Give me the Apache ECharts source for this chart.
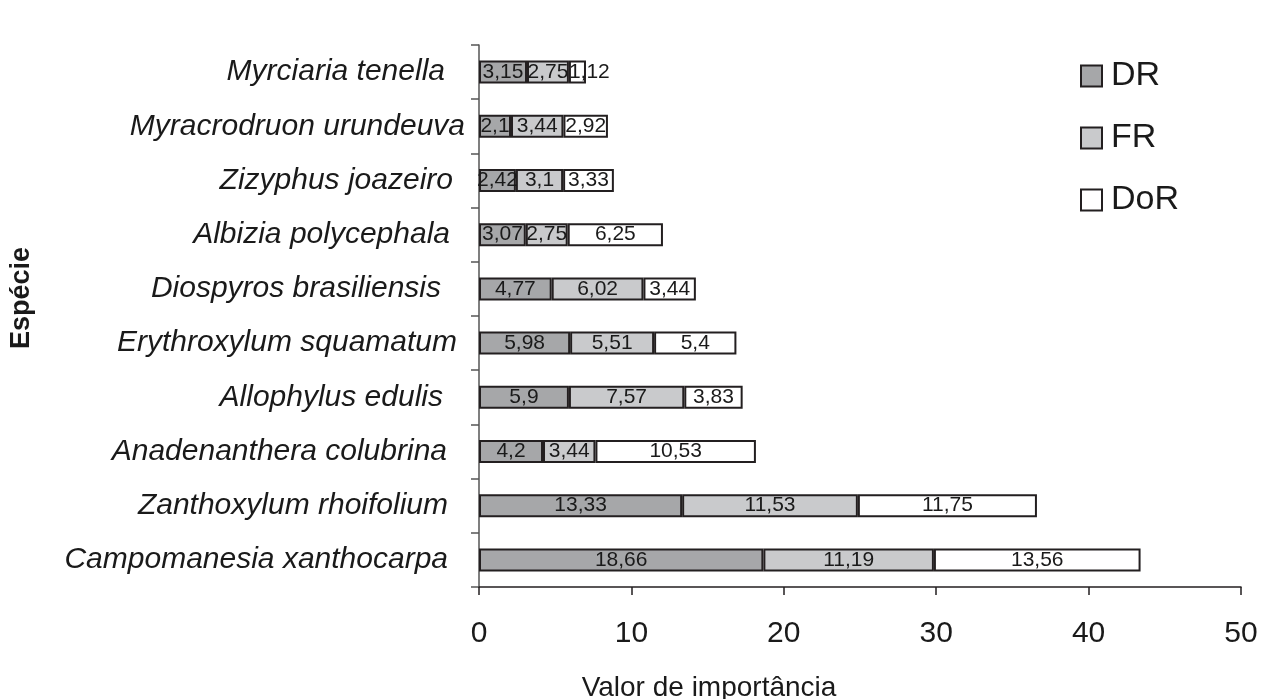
<!DOCTYPE html>
<html>
<head>
<meta charset="utf-8">
<script src="https://cdn.jsdelivr.net/npm/echarts@6/dist/echarts.min.js"></script>
<style>html,body{margin:0;padding:0;background:#fff}#c{width:1261px;height:699px}</style>
</head>
<body>
<div id="c"></div>
<script>
// Categories bottom to top
var species = [
  'Campomanesia xanthocarpa',
  'Zanthoxylum rhoifolium',
  'Anadenanthera colubrina',
  'Allophylus edulis',
  'Erythroxylum squamatum',
  'Diospyros brasiliensis',
  'Albizia polycephala',
  'Zizyphus joazeiro',
  'Myracrodruon urundeuva',
  'Myrciaria tenella'
];
var DR  = [18.66, 13.33, 4.2, 5.9, 5.98, 4.77, 3.07, 2.42, 2.1, 3.15];
var FR  = [11.19, 11.53, 3.44, 7.57, 5.51, 6.02, 2.75, 3.1, 3.44, 2.75];
var DoR = [13.56, 11.75, 10.53, 3.83, 5.4, 3.44, 6.25, 3.33, 2.92, 1.12];
var xTicks = [0, 10, 20, 30, 40, 50];

// label right gaps (style only)
var labelGap = [17, 17, 18, 22, 8, 24, 15, 12, 0, 20];

var FONT = "Arial, 'Liberation Sans', sans-serif";
var chart = echarts.init(document.getElementById('c'), null, {renderer: 'canvas'});

var rich = {};
labelGap.forEach(function (g, i) {
  rich['g' + i] = {padding: [0, g, 0, 0], fontSize: 30, fontStyle: 'italic', color: '#1a1a1a', fontFamily: FONT};
});

function fmt(p) { return String(p.value).replace('.', ','); }

function mkSeries(name, data, color) {
  return {
    name: name,
    type: 'bar',
    stack: 'total',
    barWidth: 23,
    data: data.map(function (v, i) {
      var d = {value: v};
      if (name === 'DoR' && i === 9) {
        d.label = {position: 'insideLeft', distance: 0};
      }
      return d;
    }),
    itemStyle: {color: color, borderColor: '#231f20', borderWidth: 2},
    label: {
      show: true, position: 'inside', formatter: fmt,
      fontSize: 21, color: '#1a1a1a', fontFamily: FONT
    },
    emphasis: {disabled: true}
  };
}

chart.setOption({
  animation: false,
  backgroundColor: '#fff',
  grid: {left: 479, right: 20, top: 45, bottom: 112, containLabel: false},
  xAxis: {
    type: 'value', min: 0, max: 50, interval: 10,
    axisLine: {show: true, lineStyle: {color: '#231f20', width: 1.5}},
    axisTick: {show: true, length: 8, lineStyle: {color: '#231f20', width: 1.5}},
    splitLine: {show: false},
    axisLabel: {
      margin: 32, fontSize: 30, color: '#1a1a1a', fontFamily: FONT,
      formatter: function (v) { return xTicks.indexOf(v) >= 0 ? String(v) : ''; }
    }
  },
  yAxis: {
    type: 'category', data: species,
    axisLine: {show: true, lineStyle: {color: '#555', width: 1.5}},
    axisTick: {show: true, length: 8, lineStyle: {color: '#555', width: 1.5}},
    axisLabel: {
      margin: 14,
      formatter: function (v, i) { return '{g' + i + '|' + v + '}'; },
      rich: rich
    }
  },
  legend: {
    orient: 'vertical', left: 1075, top: 54,
    itemWidth: 21, itemHeight: 21, itemGap: 28,
    icon: 'rect',
    textStyle: {fontSize: 34, color: '#1a1a1a', fontFamily: FONT, padding: [0, 0, 0, 4]},
    data: ['DR', 'FR', 'DoR']
  },
  graphic: [
    {
      type: 'text', x: 22, y: 298, rotation: Math.PI / 2,
      style: {text: 'Espécie', font: 'bold 27px ' + FONT, fill: '#1a1a1a', textAlign: 'center', textVerticalAlign: 'middle'}
    },
    {
      type: 'text', x: 709, y: 688,
      style: {text: 'Valor de importância', font: '28px ' + FONT, fill: '#1a1a1a', textAlign: 'center', textVerticalAlign: 'middle'}
    }
  ],
  series: [
    mkSeries('DR', DR, '#a6a7a9'),
    mkSeries('FR', FR, '#c9cacc'),
    mkSeries('DoR', DoR, '#ffffff')
  ]
});
</script>
</body>
</html>
